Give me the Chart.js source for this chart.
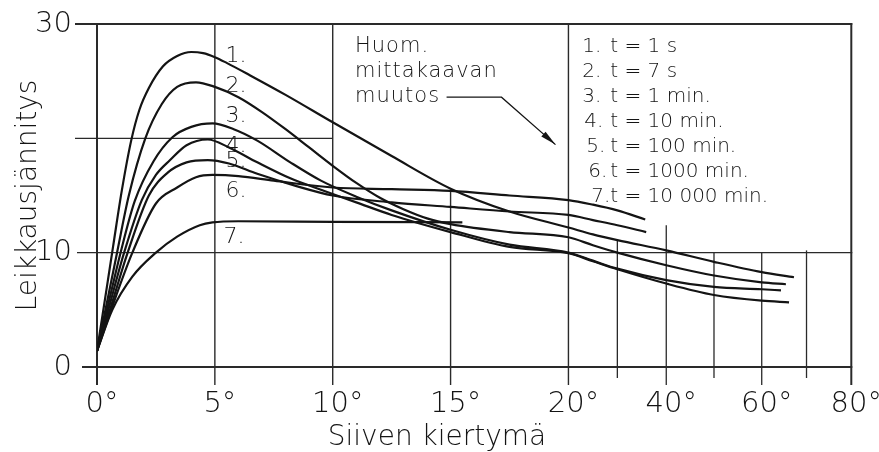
<!DOCTYPE html>
<html>
<head>
<meta charset="utf-8">
<script src="https://cdn.jsdelivr.net/npm/chart.js@4/dist/chart.umd.min.js"></script>
<style>
  html, body { margin: 0; padding: 0; background: #fff; }
  #wrap { width: 879px; height: 452px; }
</style>
</head>
<body>
<div id="wrap"><canvas id="chart" width="879" height="452"></canvas></div>
<script>
// Curve names (creep time of each test)
const seriesNames = ['t = 1 s', 't = 7 s', 't = 1 min.', 't = 10 min.', 't = 100 min.', 't = 1000 min.', 't = 10 000 min.'];

// [rotation in degrees, shear stress]
const curve1 = [[0,1.4],[0.3,5.4],[0.68,10.5],[1.05,15.4],[1.45,19.8],[1.8,22.5],[2.2,24.4],[2.8,26.3],[3.4,27.2],[4.0,27.55],[4.5,27.45],[5.0,27.1],[5.5,26.6],[6.5,25.5],[8.0,23.8],[10,21.4],[12.5,18.45],[15,15.6],[17.5,13.6],[20,12.2],[25,11.6],[30,11.1],[40,10.2],[50,9.2],[60,8.3],[67.2,7.85]];
const curve2 = [[0,1.4],[0.36,5],[0.85,10],[1.35,15],[2.05,20],[2.75,23],[3.4,24.5],[4.2,24.9],[5.0,24.5],[6.0,23.6],[7.0,22.3],[8.0,20.8],[9.0,19.2],[10,17.6],[11,16.1],[12,14.8],[13,13.8],[14,13.0],[15,12.5],[17.5,11.8],[20,11.35],[25,10.65],[30,10.0],[40,8.9],[50,8.0],[60,7.4],[65.4,7.24]];
const curve3 = [[0,1.4],[0.42,5],[1.0,10],[1.6,14.5],[2.4,18],[3.2,20.1],[4.0,21.0],[4.9,21.3],[5.8,20.8],[6.8,19.8],[8.2,17.9],[9.5,16.3],[11,14.9],[12.5,13.7],[15,12.0],[17.5,10.7],[20,10.0],[25,9.3],[30,8.6],[40,7.6],[50,7.0],[60,6.8],[64.3,6.7]];
const curve4 = [[0,1.4],[0.48,5],[1.15,10],[1.9,14.6],[2.5,16.8],[3.1,18.1],[3.8,19.4],[4.7,19.9],[5.6,19.2],[6.8,17.9],[8.2,16.5],[9.5,15.5],[11,14.4],[12.5,13.3],[15,11.8],[17.5,10.5],[20,9.95],[25,9.25],[30,8.55],[40,7.3],[50,6.3],[60,5.8],[66.1,5.66]];
const curve5 = [[0,1.4],[0.55,5],[1.3,10],[2.2,15],[3.0,17.0],[3.8,17.9],[4.7,18.1],[5.6,17.8],[6.8,16.9],[8.5,15.8],[10,15.0],[12.5,14.4],[15,14.0],[17.5,13.6],[20,13.3],[25,12.85],[30,12.4],[35.9,11.8]];
const curve6 = [[0,1.4],[0.6,5],[1.5,10],[2.5,14.3],[3.4,15.7],[4.2,16.6],[4.9,16.8],[6,16.7],[7.5,16.3],[10,15.7],[12.5,15.55],[15,15.4],[17.5,15.0],[20,14.6],[25,14.2],[30,13.7],[35.7,12.9]];
const curve7 = [[0,1.4],[0.65,5.0],[1.5,7.9],[2.5,10.0],[3.4,11.4],[4.36,12.4],[4.9,12.65],[6,12.75],[10,12.7],[15.5,12.65]];
const curves = [curve1, curve2, curve3, curve4, curve5, curve6, curve7];

// Axis ticks
const xTickDegrees = [0, 5, 10, 15, 20, 40, 60, 80];
const yTickValues = [0, 10, 20, 30];
const yTickLabels = ['0', '10', '', '30'];

// Scale change at 20°: 0–20° drawn wide, 20–80° compressed
const breakDeg = [0, 20, 40, 60, 80];
const breakPos = [0, 20, 24.15, 28.2, 32];

function toAxis(d) {
  for (let i = 0; i < breakDeg.length - 1; i++) {
    if (d <= breakDeg[i + 1] || i === breakDeg.length - 2) {
      const t = (d - breakDeg[i]) / (breakDeg[i + 1] - breakDeg[i]);
      return breakPos[i] + t * (breakPos[i + 1] - breakPos[i]);
    }
  }
  return d;
}
function fromAxis(u) {
  for (let i = 0; i < breakPos.length - 1; i++) {
    if (u <= breakPos[i + 1] + 1e-9 || i === breakPos.length - 2) {
      const t = (u - breakPos[i]) / (breakPos[i + 1] - breakPos[i]);
      return breakDeg[i] + t * (breakDeg[i + 1] - breakDeg[i]);
    }
  }
  return u;
}

const ink = '#141414';
const gridInk = '#2a2a2a';
const FAMILY = "'DejaVu Sans', sans-serif";
const WEIGHT = 300;
Chart.defaults.font.family = FAMILY;
Chart.defaults.font.weight = WEIGHT;
Chart.defaults.color = ink;

// Ruled lines of the drawing sheet (partial grid lines, tick stubs)
const verticalRules = [
  { deg: 0,  top: 30,   tick: 18, w: 2 },
  { deg: 5,  top: 30,   tick: 18, w: 1.4 },
  { deg: 10, top: 30,   tick: 18, w: 1.4 },
  { deg: 15, top: 15.45, tick: 18, w: 1.4 },
  { deg: 20, top: 30,   tick: 18, w: 1.4 },
  { deg: 30, top: 11.1, tick: 11, w: 1.3 },
  { deg: 40, top: 12.4, tick: 18, w: 1.3 },
  { deg: 50, top: 10,   tick: 11, w: 1.3 },
  { deg: 60, top: 10,   tick: 18, w: 1.3 },
  { deg: 70, top: 10.2, tick: 11, w: 1.3 },
  { deg: 80, top: 30,   tick: 18, w: 2 }
];
const horizontalRules = [
  { val: 30, from: 0, to: 80, tick: 22, w: 2 },
  { val: 20, from: 0, to: 10, tick: 22, w: 1.4 },
  { val: 10, from: 0, to: 80, tick: 20, w: 1.4 },
  { val: 0,  from: 0, to: 80, tick: 15, w: 2 }
];

const paperGrid = {
  id: 'paperGrid',
  beforeDatasetsDraw(chart) {
    const { ctx, scales: { x, y } } = chart;
    ctx.save();
    ctx.strokeStyle = gridInk;
    ctx.lineCap = 'butt';
    for (const g of verticalRules) {
      const px = x.getPixelForValue(toAxis(g.deg));
      ctx.lineWidth = g.w;
      ctx.beginPath();
      ctx.moveTo(px, y.getPixelForValue(g.top) - (g.top === 30 ? 1 : 0));
      ctx.lineTo(px, y.getPixelForValue(0) + g.tick);
      ctx.stroke();
    }
    for (const g of horizontalRules) {
      const py = y.getPixelForValue(g.val);
      ctx.lineWidth = g.w;
      ctx.beginPath();
      ctx.moveTo(x.getPixelForValue(toAxis(g.from)) - g.tick, py);
      ctx.lineTo(x.getPixelForValue(toAxis(g.to)) + (g.to === 80 ? 1 : 0), py);
      ctx.stroke();
    }
    ctx.restore();
  }
};

// Curve numbers, key, and the scale-change note
const curveLabelDeg = 5.45;
const curveLabelY = [26.7, 24.05, 21.4, 18.8, 17.5, 14.85, 10.83];
const notes = ['Huom.', 'mittakaavan', 'muutos'];

const annotations = {
  id: 'annotations',
  afterDatasetsDraw(chart) {
    const { ctx, chartArea: area, scales: { x, y } } = chart;
    ctx.save();
    ctx.fillStyle = ink;
    ctx.textBaseline = 'alphabetic';
    ctx.textAlign = 'left';

    // numbers beside the curves
    ctx.font = `${WEIGHT} 22px ${FAMILY}`;
    curveLabelY.forEach((v, i) => {
      ctx.fillText(`${i + 1}.`, x.getPixelForValue(toAxis(curveLabelDeg)) + (i === 6 ? -2 : 0), y.getPixelForValue(v));
    });

    // key
    ctx.font = `${WEIGHT} 20px ${FAMILY}`;
    const numShift = [0, 0, 0, 2, 4, 6, 9];
    seriesNames.forEach((name, i) => {
      const base = area.top + 28 + 25 * i;
      ctx.fillText(`${i + 1}.`, area.right - 269 + numShift[i], base);
      ctx.fillText(name, area.right - 241, base);
    });

    // note on the scale change
    ctx.font = `${WEIGHT} 21px ${FAMILY}`;
    if ('letterSpacing' in ctx) ctx.letterSpacing = '1px';
    notes.forEach((t, i) => {
      ctx.fillText(t, area.left + 258, area.top + 28 + 25 * i);
    });
    if ('letterSpacing' in ctx) ctx.letterSpacing = '0px';

    // leader arrow
    const pts = [[14.83, 23.6], [17.16, 23.6], [19.45, 19.45]].map(([d, v]) => [x.getPixelForValue(toAxis(d)), y.getPixelForValue(v)]);
    ctx.strokeStyle = ink;
    ctx.lineWidth = 1.3;
    ctx.beginPath();
    ctx.moveTo(pts[0][0], pts[0][1]);
    ctx.lineTo(pts[1][0], pts[1][1]);
    ctx.lineTo(pts[2][0], pts[2][1]);
    ctx.stroke();
    const [tx, ty] = pts[2];
    const ang = Math.atan2(pts[2][1] - pts[1][1], pts[2][0] - pts[1][0]);
    const len = 16, half = 3.2;
    ctx.beginPath();
    ctx.moveTo(tx, ty);
    ctx.lineTo(tx - len * Math.cos(ang) + half * Math.sin(ang), ty - len * Math.sin(ang) - half * Math.cos(ang));
    ctx.lineTo(tx - len * Math.cos(ang) - half * Math.sin(ang), ty - len * Math.sin(ang) + half * Math.cos(ang));
    ctx.closePath();
    ctx.fill();
    ctx.restore();
  }
};

new Chart(document.getElementById('chart'), {
  type: 'line',
  data: {
    datasets: curves.map((c, i) => ({
      label: seriesNames[i],
      data: c.map(([d, v]) => ({ x: toAxis(d), y: v })),
      borderColor: ink,
      borderWidth: 2.2,
      pointRadius: 0,
      fill: false,
      cubicInterpolationMode: 'monotone'
    }))
  },
  options: {
    responsive: false,
    animation: false,
    devicePixelRatio: 1,
    layout: { padding: { left: 22, right: 27, top: 24, bottom: 0 } },
    plugins: {
      legend: { display: false },
      tooltip: { enabled: false },
      title: {
        display: true,
        position: 'bottom',
        text: 'Siiven kiertymä',
        color: ink,
        font: { family: FAMILY, size: 28, weight: WEIGHT, lineHeight: 1 },
        padding: { top: 8, bottom: 0 }
      }
    },
    scales: {
      x: {
        type: 'linear',
        min: 0,
        max: 32,
        afterBuildTicks: s => { s.ticks = xTickDegrees.map(d => ({ value: toAxis(d) })); },
        afterFit: s => { s.height = 49; },
        ticks: {
          autoSkip: false,
          maxRotation: 0,
          labelOffset: 5,
          padding: 2,
          color: ink,
          font: { family: FAMILY, size: 29, weight: WEIGHT },
          callback: v => Math.round(fromAxis(v)) + '°'
        },
        grid: { display: false, drawTicks: true, tickLength: 18 },
        border: { display: false }
      },
      y: {
        min: 0,
        max: 30,
        afterBuildTicks: s => { s.ticks = yTickValues.map(v => ({ value: v })); },
        afterFit: s => { s.width = 75; },
        ticks: {
          autoSkip: false,
          padding: 3,
          color: ink,
          font: { family: FAMILY, size: 29, weight: WEIGHT },
          callback: v => yTickLabels[yTickValues.indexOf(v)]
        },
        grid: { display: false, drawTicks: true, tickLength: 22 },
        border: { display: false },
        title: {
          display: true,
          text: 'Leikkausjännitys',
          color: ink,
          font: { family: FAMILY, size: 28, weight: WEIGHT, lineHeight: 0.45 },
          padding: 0
        }
      }
    }
  },
  plugins: [paperGrid, annotations]
});
</script>
</body>
</html>
